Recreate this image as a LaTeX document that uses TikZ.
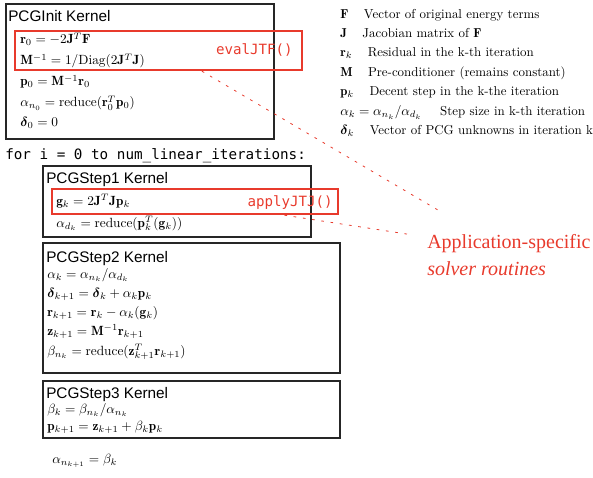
\documentclass[tikz,border=0pt]{standalone}
\usepackage{fontspec}
\usepackage{amsmath}
\usepackage{amsfonts}
\usepackage{tikz}
\usetikzlibrary{positioning, fit, calc}
\newfontfamily\headfont{Liberation Sans}
\newfontfamily\codefont{DejaVu Sans Mono}
\newfontfamily\notefont{Liberation Serif}
\definecolor{callred}{RGB}{232,58,44}
\tikzstyle{kernel} = [rectangle, draw=black!85, line width=0.9pt, inner sep=0pt]
\tikzstyle{routine} = [rectangle, draw=callred, line width=1.8pt, inner sep=0pt]
\tikzstyle{title} = [anchor=base west, inner sep=0pt, font=\headfont\fontsize{11.5}{14}\selectfont]
\tikzstyle{eq} = [anchor=base west, inner sep=0pt, font=\fontsize{10}{12}\selectfont]
\tikzstyle{call} = [anchor=base east, inner sep=0pt, text=callred, font=\codefont\fontsize{10.6}{12}\selectfont]
\tikzstyle{legend} = [anchor=base west, inner sep=0pt, font=\fontsize{9.7}{12}\selectfont]
\tikzstyle{note} = [anchor=base west, inner sep=0pt, text=callred, font=\notefont\fontsize{15}{18}\selectfont]
\tikzstyle{pointer} = [draw=callred, line width=0.6pt, dash pattern=on 2pt off 5pt]

\begin{document}
\begin{tikzpicture}[x=0.75pt, y=-0.75pt]
    \useasboundingbox (0,0) rectangle (593,478);

    % PCGInit kernel
    \node (init) [kernel, fit={(6,4) (274,139)}] {};
    \node (inittitle) [title] at (8,22) {PCGInit Kernel};
    \node (r0) [eq] at (20,44) {$\mathbf{r}_0 = -2\mathbf{J}^T\mathbf{F}$};
    \node (minv) [eq] at (20,65) {$\mathbf{M}^{-1} = 1/\mathrm{Diag}(2\mathbf{J}^T\mathbf{J})$};
    \node (p0) [eq] at (20,86) {$\mathbf{p}_0 = \mathbf{M}^{-1}\mathbf{r}_0$};
    \node (an0) [eq] at (20,107) {$\alpha_{n_0} = \mathrm{reduce}(\mathbf{r}_0^T\mathbf{p}_0)$};
    \node (d0) [eq] at (20,127) {$\boldsymbol{\delta}_0 = 0$};
    \node (jtf) [routine, fit={(15,31) (302,70)}] {};
    \node (evaljtf) [call] at (293,55) {evalJTF()};

    % loop header
    \node (loop) [anchor=base west, inner sep=0pt, font=\codefont\fontsize{10.7}{12}\selectfont] at (5,160) {for i = 0 to num\_linear\_iterations:};

    % PCGStep1 kernel
    \node (step1) [kernel, fit={(43,166) (311,237)}] {};
    \node (step1title) [title] at (46,183) {PCGStep1 Kernel};
    \node (gk) [eq] at (56,205) {$\mathbf{g}_k = 2\mathbf{J}^T\mathbf{J}\mathbf{p}_k$};
    \node (adk) [eq] at (56,227) {$\alpha_{d_k} = \mathrm{reduce}(\mathbf{p}_k^T(\mathbf{g}_k))$};
    \node (jtj) [routine, fit={(52,189) (338,214)}] {};
    \node (applyjtj) [call] at (333,206) {applyJTJ()};

    % PCGStep2 kernel
    \node (step2) [kernel, fit={(43,243) (340,373)}] {};
    \node (step2title) [title] at (46,262) {PCGStep2 Kernel};
    \node (ak) [eq] at (47,278) {$\alpha_k = \alpha_{n_k}/\alpha_{d_k}$};
    \node (dk1) [eq] at (47,297) {$\boldsymbol{\delta}_{k+1} = \boldsymbol{\delta}_k + \alpha_k\mathbf{p}_k$};
    \node (rk1) [eq] at (47,316) {$\mathbf{r}_{k+1} = \mathbf{r}_k - \alpha_k(\mathbf{g}_k)$};
    \node (zk1) [eq] at (47,335) {$\mathbf{z}_{k+1} = \mathbf{M}^{-1}\mathbf{r}_{k+1}$};
    \node (bnk) [eq] at (47,355) {$\beta_{n_k} = \mathrm{reduce}(\mathbf{z}_{k+1}^T\mathbf{r}_{k+1})$};

    % PCGStep3 kernel
    \node (step3) [kernel, fit={(43,381) (340,438)}] {};
    \node (step3title) [title] at (46,398) {PCGStep3 Kernel};
    \node (bk) [eq] at (47,413) {$\beta_k = \beta_{n_k}/\alpha_{n_k}$};
    \node (pk1) [eq] at (47,430) {$\mathbf{p}_{k+1} = \mathbf{z}_{k+1} + \beta_k\mathbf{p}_k$};
    \node (ank1) [eq] at (52,463) {$\alpha_{n_{k+1}} = \beta_k$};

    % Legend
    \node (legF) [legend] at (340,19) {$\mathbf{F}$\hspace{1.2em}Vector of original energy terms};
    \node (legJ) [legend] at (340,38) {$\mathbf{J}$\hspace{1.2em}Jacobian matrix of $\mathbf{F}$};
    \node (legr) [legend] at (340,57) {$\mathbf{r}_k$\hspace{1.2em}Residual in the k-th iteration};
    \node (legM) [legend] at (340,77) {$\mathbf{M}$\hspace{1.2em}Pre-conditioner (remains constant)};
    \node (legp) [legend] at (340,96) {$\mathbf{p}_k$\hspace{1.2em}Decent step in the k-the iteration};
    \node (lega) [legend] at (340,116) {$\alpha_k = \alpha_{n_k}/\alpha_{d_k}$\hspace{1.4em}Step size in k-th iteration};
    \node (legd) [legend] at (340,135) {$\boldsymbol{\delta}_k$\hspace{1.2em}Vector of PCG unknowns in iteration k};

    % Application-specific note
    \node (app) [note] at (427,248) {Application-specific};
    \node (app2) [note] at (427,275) {\itshape solver routines};

    % Pointers
    \draw [pointer] ($(jtf.south west)!0.65!(jtf.south east)$) -- ($(app.base west)+(16,-35)$);
    \draw [pointer] ($(jtj.south west)!0.81!(jtj.south east)$) -- ($(app.base west)+(-14,-13)$);
\end{tikzpicture}
\end{document}
